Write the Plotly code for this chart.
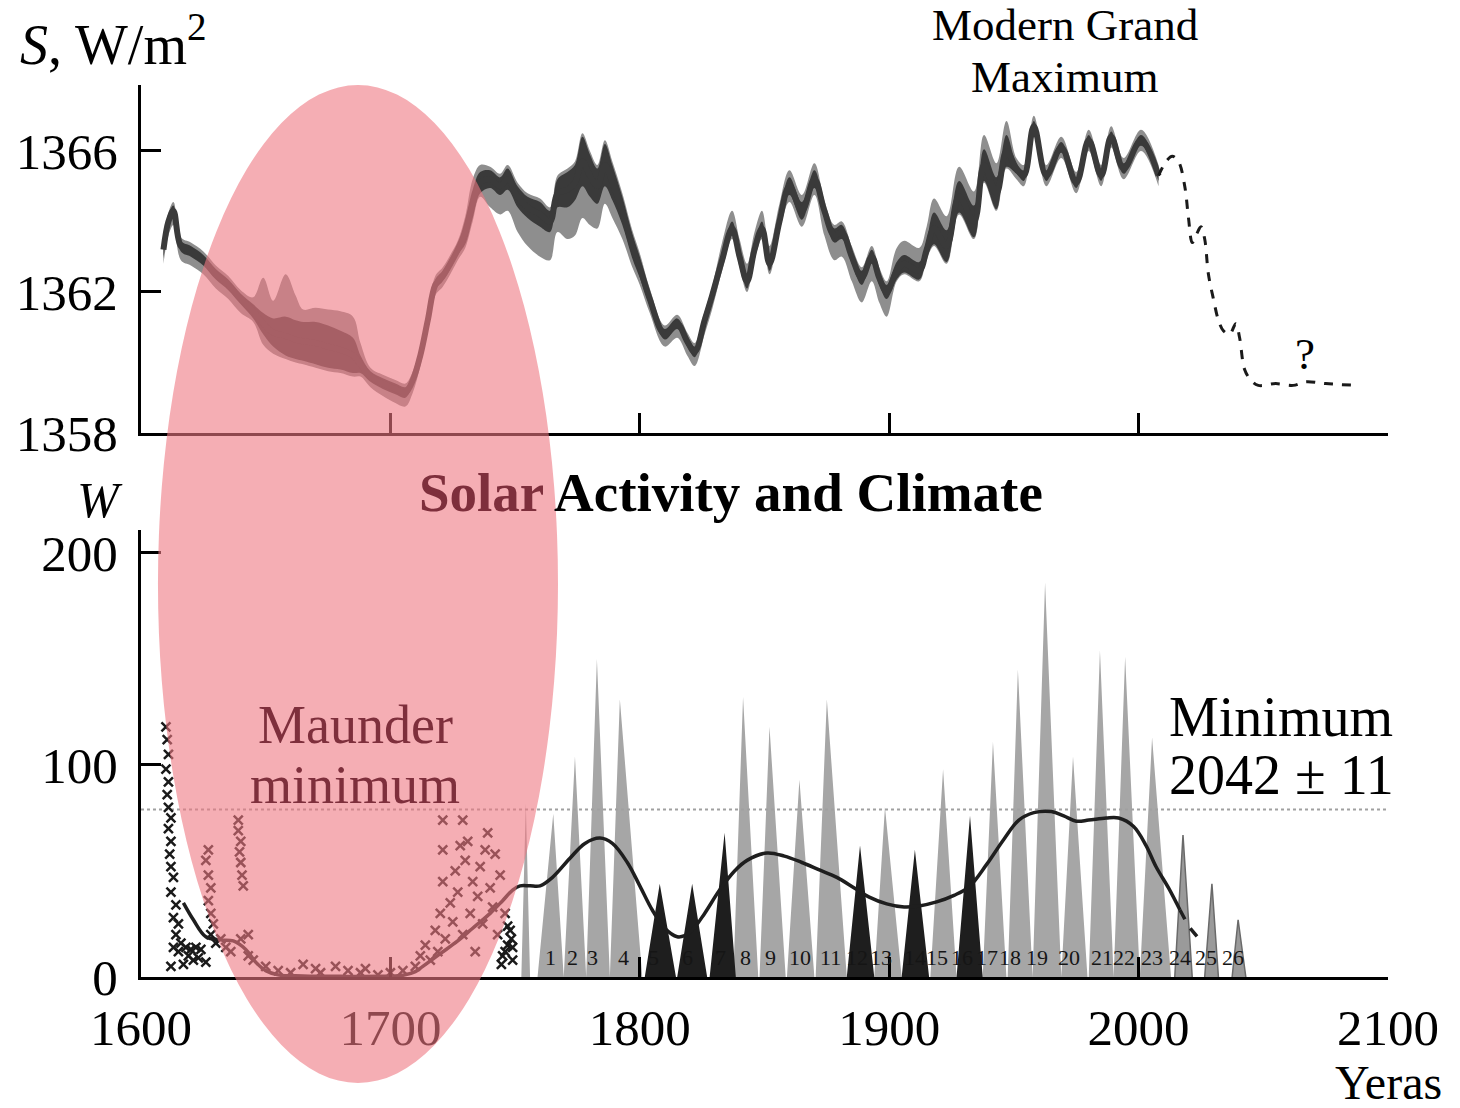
import plotly.graph_objects as go

# -----------------------------------------------------------------------------
# Data
# -----------------------------------------------------------------------------
# Total solar irradiance S (W/m^2): centre line, dark band half width,
# light band offsets above / below the centre line
tsi_year = [1609, 1611, 1613, 1616, 1620, 1625, 1630, 1635, 1640, 1645,
            1649, 1653, 1658, 1662, 1665, 1670, 1675, 1680, 1685, 1688,
            1692, 1697, 1702, 1706, 1709, 1712, 1715, 1718, 1721, 1724,
            1727, 1730, 1733, 1736, 1740, 1744, 1747, 1751, 1755, 1760,
            1764, 1767, 1771, 1774, 1777, 1780, 1783, 1786, 1789, 1793,
            1797, 1800, 1804, 1810, 1815, 1819, 1822, 1826, 1829, 1833,
            1837, 1840, 1843, 1846, 1849, 1852, 1856, 1860, 1865, 1870,
            1874, 1878, 1881, 1885, 1889, 1893, 1896, 1899, 1903, 1906,
            1912, 1915, 1918, 1923, 1928, 1934, 1938, 1943, 1947, 1951,
            1954, 1958, 1963, 1969, 1975, 1980, 1985, 1989, 1994, 2001,
            2008]
tsi_mid = [1363.2, 1364.0, 1364.3, 1363.3, 1363.15, 1362.9, 1362.5, 1362.2, 1361.8, 1361.45,
           1361.1, 1360.85, 1360.75, 1360.65, 1360.6, 1360.55, 1360.45, 1360.35, 1360.2, 1359.95,
           1359.6, 1359.4, 1359.25, 1359.15, 1359.5, 1360.2, 1361.2, 1362.2, 1362.45, 1362.8,
           1363.2, 1363.7, 1364.5, 1365.1, 1365.2, 1365.0, 1365.2, 1364.7, 1364.4, 1364.2,
           1364.0, 1364.8, 1364.9, 1365.1, 1365.7, 1365.3, 1365.0, 1365.6, 1365.1, 1364.3,
           1363.3, 1362.7, 1361.8, 1360.8, 1361.1, 1360.6, 1360.3, 1361.2, 1361.9, 1362.9,
           1363.8, 1363.0, 1362.3, 1363.2, 1363.8, 1362.8, 1364.0, 1365.0, 1364.3, 1365.2,
           1364.3, 1363.6, 1363.7, 1363.0, 1362.4, 1363.0, 1362.4, 1362.0, 1362.6, 1362.8,
           1362.6, 1363.2, 1363.8, 1363.3, 1364.7, 1364.0, 1365.6, 1364.8, 1366.0, 1365.5,
           1365.3, 1366.7, 1365.3, 1366.1, 1365.1, 1366.3, 1365.3, 1366.4, 1365.5, 1366.3,
           1365.3]
tsi_dark_half = [0.25, 0.2, 0.15, 0.15, 0.15, 0.15, 0.15, 0.15, 0.15, 0.2,
                 0.3, 0.4, 0.55, 0.55, 0.55, 0.6, 0.6, 0.55, 0.5, 0.25,
                 0.15, 0.15, 0.15, 0.15, 0.15, 0.15, 0.15, 0.15, 0.15, 0.15,
                 0.15, 0.35, 0.4, 0.3, 0.25, 0.25, 0.3, 0.3, 0.3, 0.35,
                 0.3, 0.4, 0.5, 0.5, 0.7, 0.6, 0.5, 0.6, 0.5, 0.4,
                 0.35, 0.3, 0.2, 0.15, 0.15, 0.15, 0.15, 0.15, 0.15, 0.2,
                 0.2, 0.2, 0.2, 0.2, 0.2, 0.2, 0.2, 0.25, 0.25, 0.25,
                 0.2, 0.2, 0.2, 0.2, 0.2, 0.2, 0.2, 0.2, 0.25, 0.25,
                 0.25, 0.25, 0.45, 0.45, 0.45, 0.45, 0.45, 0.45, 0.45, 0.15,
                 0.15, 0.15, 0.15, 0.15, 0.15, 0.15, 0.15, 0.15, 0.15, 0.15,
                 0.15]
tsi_light_up = [0.25, 0.25, 0.25, 0.25, 0.25, 0.25, 0.25, 0.25, 0.25, 0.4,
                1.3, 0.9, 1.75, 1.25, 0.9, 1.0, 1.05, 1.1, 1.1, 0.6,
                0.25, 0.25, 0.25, 0.25, 0.25, 0.25, 0.25, 0.25, 0.25, 0.25,
                0.25, 0.45, 0.7, 0.5, 0.35, 0.35, 0.4, 0.4, 0.4, 0.45,
                0.4, 0.5, 0.6, 0.6, 0.8, 0.7, 0.6, 0.7, 0.6, 0.5,
                0.45, 0.4, 0.3, 0.25, 0.25, 0.25, 0.25, 0.25, 0.25, 0.5,
                0.5, 0.5, 0.5, 0.5, 0.5, 0.5, 0.5, 0.45, 0.45, 0.45,
                0.3, 0.3, 0.3, 0.3, 0.3, 0.3, 0.3, 0.3, 0.65, 0.65,
                0.65, 0.65, 0.85, 0.85, 0.85, 0.85, 0.85, 0.85, 0.85, 0.3,
                0.3, 0.3, 0.3, 0.3, 0.3, 0.3, 0.3, 0.3, 0.3, 0.3,
                0.3]
tsi_light_dn = [0.4, 0.4, 0.4, 0.4, 0.4, 0.4, 0.4, 0.4, 0.4, 0.3,
                0.6, 0.6, 0.65, 0.65, 0.65, 0.7, 0.7, 0.65, 0.6, 0.35,
                0.3, 0.35, 0.4, 0.4, 0.35, 0.3, 0.3, 0.3, 0.3, 0.3,
                0.3, 0.45, 0.5, 0.4, 0.8, 0.8, 0.9, 1.0, 1.1, 1.2,
                1.1, 1.1, 1.4, 1.5, 1.6, 1.4, 1.2, 1.1, 1.0, 0.8,
                0.6, 0.5, 0.4, 0.35, 0.4, 0.4, 0.4, 0.4, 0.4, 0.3,
                0.3, 0.3, 0.3, 0.3, 0.3, 0.3, 0.3, 0.45, 0.45, 0.45,
                0.7, 0.7, 0.7, 0.7, 0.7, 0.7, 0.7, 0.7, 0.3, 0.3,
                0.3, 0.3, 0.5, 0.5, 0.5, 0.5, 0.5, 0.5, 0.5, 0.3,
                0.3, 0.3, 0.3, 0.3, 0.3, 0.3, 0.3, 0.3, 0.3, 0.3,
                0.3]

# forecast of S (dashed)
fc_year = [2008, 2011, 2013.5, 2016, 2018.5, 2020, 2021.5, 2023, 2025, 2026.5,
           2028, 2030, 2032, 2034, 2036.5, 2039, 2040.5, 2042.5, 2045, 2048,
           2055, 2062, 2067, 2075, 2087]
fc_tsi = [1365.3, 1365.7, 1365.85, 1365.7, 1365.0, 1364.1, 1363.4, 1363.6, 1363.85, 1363.5,
          1362.5, 1361.8, 1361.2, 1360.9, 1360.8, 1361.1, 1360.7, 1359.8, 1359.5, 1359.35,
          1359.4, 1359.35, 1359.45, 1359.4, 1359.35]

# sunspot cycles (W)
cycle_num = list(range(1, 27))
cycle_start = [1759, 1769.5, 1778.5, 1788, 1802, 1815, 1828, 1837.5, 1848, 1859,
               1870.5, 1883, 1894, 1905, 1916.5, 1927, 1937.5, 1947.5, 1957.5, 1969,
               1980, 1990, 2000.5, 2014.5, 2026.5, 2037.5]
cycle_peak_year = [1765.3, 1774, 1782.8, 1792, 1808, 1821, 1834, 1841.4, 1852, 1864,
                   1875, 1888.3, 1898.3, 1910.3, 1921.6, 1932.4, 1941.6, 1951.6, 1962.5, 1973.7,
                   1984.5, 1994.6, 2005.4, 2017.8, 2029.4, 2039.9]
cycle_peak = [77, 104, 150, 131, 44, 44, 68, 132, 118, 93,
              131, 62, 80, 60, 98, 76, 111, 145, 186, 104,
              154, 151, 113, 67, 44, 27]
cycle_end = [1769.5, 1778.5, 1788, 1801, 1814.5, 1827, 1838.5, 1847.5, 1858.5, 1870,
             1883, 1894, 1905, 1916, 1927, 1937.5, 1947, 1957.5, 1969, 1979.5,
             1990, 2000.5, 2013, 2021.5, 2032, 2043]
cycle_label_year = [1764, 1773.2, 1781.2, 1793.3, 1805.3, 1819.3, 1832.2, 1842.2, 1852.6, 1864.2,
                    1876.3, 1887, 1896.7, 1910.3, 1919, 1929.2, 1939.2, 1948.4, 1959.3, 1972,
                    1985.3, 1994.3, 2005.5, 2016.5, 2026.9, 2037.7]
dark_cycles = [5, 6, 7, 12, 14, 16]

# early spike before cycle 1: start, peak year, peak, end
early_spike = (1752.5, 1754.3, 82, 1756)

# early telescopic observations (scatter)
obs_year = [1610, 1610.5, 1611, 1610, 1611, 1610.5, 1611, 1612, 1611, 1612,
            1611.5, 1612, 1613, 1612, 1614, 1613, 1615, 1614, 1616, 1615,
            1613, 1618, 1620, 1622, 1624, 1619, 1621, 1617, 1623, 1626,
            1612, 1627, 1626, 1627, 1628, 1627, 1628, 1629, 1628, 1630,
            1639, 1639, 1640, 1639.5, 1640, 1640.5, 1641, 1632, 1634, 1636,
            1640, 1643, 1643, 1645, 1650, 1655, 1660, 1665, 1670, 1672,
            1678, 1683, 1688, 1690, 1695, 1700, 1705, 1710, 1712, 1714,
            1716, 1718, 1719, 1720, 1721, 1721, 1721, 1722, 1724, 1725,
            1726, 1727, 1728, 1729, 1729, 1730, 1731, 1732, 1733, 1734,
            1735, 1736, 1737, 1738, 1739, 1740, 1741, 1742, 1743, 1744,
            1745, 1746, 1747, 1748, 1749, 1747, 1748.5, 1746, 1749, 1744.5]
obs_w = [118, 112, 105, 98, 92, 86, 80, 75, 70, 64,
         58, 52, 47, 40, 34, 28, 25, 20, 16, 12,
         14, 14, 13, 14, 13, 10, 8, 6, 9, 7,
         5, 60, 55, 48, 42, 36, 30, 25, 20, 16,
         74, 69, 64, 59, 54, 48, 43, 18, 14, 12,
         18, 20, 10, 8, 5, 3, 2, 6, 4, 2,
         5, 3, 2, 4, 1, 2, 3, 5, 10, 15,
         8, 22, 12, 30, 45, 60, 74, 18, 35, 26,
         50, 40, 62, 74, 20, 55, 64, 30, 45, 12,
         38, 52, 25, 60, 68, 42, 33, 58, 20, 48,
         10, 30, 15, 22, 8, 24, 18, 12, 14, 6]

# smoothed sunspot number
smooth_year = [1617, 1621, 1626, 1632, 1637, 1642, 1646, 1650, 1655, 1665,
               1680, 1695, 1705, 1710, 1713, 1720, 1727, 1733, 1740, 1745,
               1749, 1752, 1756, 1760, 1765, 1772, 1778, 1784, 1789, 1795,
               1800, 1805, 1810, 1815, 1818, 1821, 1826, 1832, 1838, 1843,
               1851, 1858, 1865, 1872, 1879, 1886, 1892, 1899, 1906, 1912,
               1919, 1926, 1932, 1939, 1946, 1952, 1958, 1965, 1970, 1975,
               1980, 1987, 1992, 1998, 2003, 2007, 2012, 2016.6]
smooth_w = [35, 27, 19, 17.5, 17, 13, 7, 3, 1, 0.5,
            0.3, 0.3, 0.8, 2.5, 5, 11, 17, 23, 30, 36,
            41, 43, 43, 43, 47, 56, 63, 65.5, 63, 54,
            43, 31.6, 23, 19, 19.5, 22, 30, 41, 50, 55,
            58.5, 57, 54, 50.5, 47, 42, 37.7, 34.5, 33, 33.5,
            35.4, 38.5, 42.5, 53, 65, 74, 77.5, 78, 76, 73.5,
            74, 75, 75, 71, 62, 52, 42, 31.6]
smooth_fc_year = [2016.6, 2020, 2024.6]
smooth_fc_w = [31.6, 24, 17.5]

threshold_w = 79

assert len(tsi_year) == len(tsi_mid) == len(tsi_dark_half) == len(tsi_light_up) == len(tsi_light_dn)
assert len(obs_year) == len(obs_w)

# -----------------------------------------------------------------------------
# Figure
# -----------------------------------------------------------------------------
SERIF = "Liberation Serif"
LIGHT = "#8e8e8e"
DARK = "#3a3a3a"
MAROON = "#7e2f3c"

fig = go.Figure()

light_hi = [m + u for m, u in zip(tsi_mid, tsi_light_up)]
light_lo = [m - d for m, d in zip(tsi_mid, tsi_light_dn)]
dark_hi = [m + h for m, h in zip(tsi_mid, tsi_dark_half)]
dark_lo = [m - h for m, h in zip(tsi_mid, tsi_dark_half)]

fig.add_trace(go.Scatter(x=tsi_year, y=light_hi, mode="lines", line=dict(width=0, shape="spline"),
                         xaxis="x", yaxis="y", showlegend=False, hoverinfo="skip"))
fig.add_trace(go.Scatter(x=tsi_year, y=light_lo, mode="lines", line=dict(width=0, shape="spline"),
                         fill="tonexty", fillcolor=LIGHT, xaxis="x", yaxis="y", showlegend=False))
fig.add_trace(go.Scatter(x=tsi_year, y=dark_hi, mode="lines", line=dict(width=0, shape="spline"),
                         xaxis="x", yaxis="y", showlegend=False, hoverinfo="skip"))
fig.add_trace(go.Scatter(x=tsi_year, y=dark_lo, mode="lines", line=dict(width=0, shape="spline"),
                         fill="tonexty", fillcolor=DARK, xaxis="x", yaxis="y", showlegend=False))
fig.add_trace(go.Scatter(x=tsi_year, y=tsi_mid, mode="lines",
                         line=dict(color=DARK, width=6, shape="spline"),
                         xaxis="x", yaxis="y", showlegend=False))
fig.add_trace(go.Scatter(x=fc_year, y=fc_tsi, mode="lines",
                         line=dict(color="#1a1a1a", width=3, dash="dash", shape="spline"),
                         xaxis="x", yaxis="y", showlegend=False))


# sunspot cycles as spikes
def spikes(nums):
    xs, ys = [], []
    for n, s, py, p, e in zip(cycle_num, cycle_start, cycle_peak_year, cycle_peak, cycle_end):
        if n in nums:
            xs += [s, py, e, None]
            ys += [0, p, 0, None]
    return xs, ys


grey_ids = [n for n in cycle_num if n not in dark_cycles and n < 24]
gx, gy = spikes(grey_ids)
gx = [early_spike[0], early_spike[1], early_spike[3], None] + gx
gy = [0, early_spike[2], 0, None] + gy
fig.add_trace(go.Scatter(x=gx, y=gy, mode="lines", fill="toself", fillcolor="#a6a6a6",
                         line=dict(width=0), xaxis="x2", yaxis="y2", showlegend=False))
fx, fy = spikes([24, 25, 26])
fig.add_trace(go.Scatter(x=fx, y=fy, mode="lines", fill="toself", fillcolor="#9a9a9a",
                         line=dict(width=1.5, color="#6a6a6a"), xaxis="x2", yaxis="y2",
                         showlegend=False))
bx, by = spikes(dark_cycles)
fig.add_trace(go.Scatter(x=bx, y=by, mode="lines", fill="toself", fillcolor="#1e1e1e",
                         line=dict(width=0), xaxis="x2", yaxis="y2", showlegend=False))

fig.add_trace(go.Scatter(x=[1600, 2100], y=[threshold_w, threshold_w], mode="lines",
                         line=dict(color="#a0a0a0", width=2, dash="dot"), cliponaxis=False,
                         xaxis="x2", yaxis="y2", showlegend=False))

fig.add_trace(go.Scatter(x=obs_year, y=obs_w, mode="markers",
                         marker=dict(symbol="x-thin-open", size=9, color="#1a1a1a",
                                     line=dict(width=2.5, color="#1a1a1a")),
                         xaxis="x2", yaxis="y2", showlegend=False))

fig.add_trace(go.Scatter(x=smooth_year, y=smooth_w, mode="lines",
                         line=dict(color="#1e1e1e", width=3.5, shape="spline"),
                         xaxis="x2", yaxis="y2", showlegend=False))
fig.add_trace(go.Scatter(x=smooth_fc_year, y=smooth_fc_w, mode="lines",
                         line=dict(color="#1e1e1e", width=3.5, dash="dash"),
                         xaxis="x2", yaxis="y2", showlegend=False))

axis_common = dict(showline=True, linecolor="black", linewidth=3, ticks="inside",
                   ticklen=20, tickwidth=3, tickcolor="black", showgrid=False,
                   zeroline=False, automargin=False,
                   tickfont=dict(family=SERIF, size=51, color="black"))

fig.update_layout(
    width=1460, height=1108,
    margin=dict(l=141, r=72, t=85, b=131, autoexpand=False),
    paper_bgcolor="white", plot_bgcolor="white",
    font=dict(family=SERIF, color="black"),
    xaxis=dict(axis_common, domain=[0, 1], range=[1600, 2100], anchor="y",
               tickvals=[1700, 1800, 1900, 2000, 2100], showticklabels=False),
    yaxis=dict(axis_common, domain=[0.6099, 1.0], range=[1358, 1367.87], anchor="x",
               tickvals=[1358, 1362, 1366], ticklabelstandoff=10),
    xaxis2=dict(axis_common, domain=[0, 1], range=[1600, 2100], anchor="y2",
                tickvals=[1600, 1700, 1800, 1900, 2000, 2100], ticklabelstandoff=4),
    yaxis2=dict(axis_common, domain=[0, 0.5011], range=[0, 210.8], anchor="x2",
                tickvals=[0, 100, 200], ticklabelstandoff=10),
)

# Maunder minimum ellipse
fig.add_shape(type="circle", xref="paper", yref="paper",
              x0=0.0136, x1=0.3344, y0=-0.1188, y1=1.0,
              fillcolor="rgba(238,120,130,0.6)", line=dict(width=0), layer="above")

notes = [
    dict(x=-0.099, y=1.0504, text="<i>S</i>, W/m<sup>2</sup>", xanchor="left", size=56),
    dict(x=-0.0329, y=0.5348, text="<i>W</i>", xanchor="center", size=50),
    dict(x=1.0, y=-0.118, text="Yeras", xanchor="center", size=48),
    dict(x=0.4731, y=0.5437, xanchor="center", size=55,
         text="<b><span style='color:%s'>Solar</span> Activity and Climate</b>" % MAROON),
    dict(x=0.741, y=1.0673, text="Modern Grand", xanchor="center", size=45),
    dict(x=0.741, y=1.009, text="Maximum", xanchor="center", size=45),
    dict(x=0.9337, y=0.698, text="?", xanchor="center", size=45),
    dict(x=0.1717, y=0.2825, text="Maunder", xanchor="center", size=54, color=MAROON),
    dict(x=0.1717, y=0.2152, text="minimum", xanchor="center", size=54, color=MAROON),
    dict(x=0.8228, y=0.2915, text="Minimum", xanchor="left", size=56),
    dict(x=0.8228, y=0.2265, text="2042 ± 11", xanchor="left", size=56),
]
for n in notes:
    fig.add_annotation(x=n["x"], y=n["y"], xref="paper", yref="paper", text=n["text"],
                       xanchor=n["xanchor"], yanchor="middle", showarrow=False,
                       font=dict(family=SERIF, size=n["size"], color=n.get("color", "black")))

for n, yr in zip(cycle_num, cycle_label_year):
    fig.add_annotation(x=yr, y=3, xref="x2", yref="y2", text=str(n), showarrow=False,
                       yanchor="bottom", xanchor="center", borderpad=0,
                       font=dict(family=SERIF, size=22, color="#151515"))

# the page's default body margin would shift the figure by 8px
fig.write_html("out.html", config={"displayModeBar": False},
               post_script="document.body.style.margin='0';")
